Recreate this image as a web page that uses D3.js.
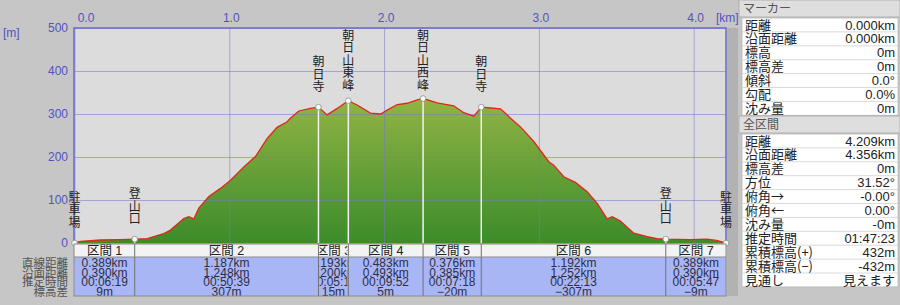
<!DOCTYPE html>
<html>
<head>
<meta charset="utf-8">
<script src="https://cdn.jsdelivr.net/npm/d3@7"></script>
<style>
  body { margin: 0; background: #c6c6c6; }
  svg { display: block; font-family: "Liberation Sans", "Noto Sans CJK JP", sans-serif; }
</style>
</head>
<body>
<div id="chart-area"></div>
<script>
// profile (horizontal distance km / elevation m)
var distKm = [0, 0.039, 0.168, 0.297, 0.389, 0.470, 0.577, 0.620, 0.706, 0.738, 0.771, 0.803, 0.868, 0.943, 1.008,
  1.094, 1.169, 1.245, 1.309, 1.374, 1.395, 1.449, 1.525, 1.576, 1.632, 1.697, 1.769, 1.826, 1.912, 1.977,
  2.020, 2.085, 2.149, 2.214, 2.252, 2.343, 2.450, 2.515, 2.580, 2.628, 2.688, 2.752, 2.784, 2.817, 2.881,
  2.967, 3.064, 3.096, 3.161, 3.236, 3.312, 3.377, 3.441, 3.474, 3.527, 3.613, 3.700, 3.764, 3.820, 3.979,
  4.087, 4.147, 4.209];
var elevM = [0, 4, 7, 8, 9, 10, 22, 30, 57, 61, 56, 81, 108, 127, 146,
  177, 201, 243, 269, 282, 290, 307, 313, 316, 298, 313, 331, 321, 302, 300,
  309, 322, 325, 333, 336, 326, 319, 303, 295, 316, 314, 312, 302, 290, 270,
  236, 189, 181, 154, 141, 119, 92, 56, 61, 51, 23, 15, 10, 9, 8,
  9, 6, 0];

var waypointNames = ["駐車場", "登山口", "朝日寺", "朝日山東峰", "朝日山西峰", "朝日寺", "登山口", "駐車場"];

var sectionNames = ["区間 1", "区間 2", "区間 3", "区間 4", "区間 5", "区間 6", "区間 7"];
var sectionKm = [0.389, 1.187, 0.193, 0.483, 0.376, 1.192, 0.389];
var sectionSurfKm = [0.390, 1.248, 0.200, 0.493, 0.385, 1.252, 0.390];
var sectionTime = ["00:06:19", "00:50:39", "00:05:15", "00:09:52", "00:07:18", "00:22:13", "00:05:47"];
var sectionDiff = [9, 307, 15, 5, -20, -307, -9];
var rowLabels = ["直線距離", "沿面距離", "推定時間", "標高差"];

var xTicks = [0, 1, 2, 3, 4];
var yTicks = [0, 100, 200, 300, 400, 500];

var markerLabels = ["距離", "沿面距離", "標高", "標高差", "傾斜", "勾配", "沈み量"];
var markerValues = ["0.000km", "0.000km", "0m", "0m", "0.0°", "0.0%", "0m"];
var totalLabels = ["距離", "沿面距離", "標高差", "方位", "俯角→", "俯角←", "沈み量", "推定時間", "累積標高(+)", "累積標高(−)", "見通し"];
var totalValues = ["4.209km", "4.356km", "0m", "31.52°", "-0.00°", "0.00°", "-0m", "01:47:23", "432m", "-432m", "見えます"];

var svgWidth = 900, svgHeight = 305;
var plot = { left: 74, right: 726, top: 28, bottom: 243 };

var svg = d3.select("#chart-area").append("svg")
  .attr("width", svgWidth).attr("height", svgHeight);

var x = d3.scaleLinear().domain([0, d3.sum(sectionKm)]).range([plot.left + 0.5, plot.right]);
var y = d3.scaleLinear().domain([0, 500]).range([plot.bottom, plot.top]);

// waypoints from section data
var wpKm = [0], wpElev = [0];
sectionKm.forEach(function(d, i) {
  wpKm.push(wpKm[i] + d);
  wpElev.push(wpElev[i] + sectionDiff[i]);
});
var profile = distKm.map(function(d, i) { return { km: d, m: elevM[i] }; });

// plot background
svg.append("rect").attr("x", plot.left).attr("y", plot.top)
  .attr("width", plot.right - plot.left).attr("height", plot.bottom - plot.top)
  .attr("fill", "#dcdcdc");
svg.append("rect").attr("x", plot.right + 1).attr("y", plot.top)
  .attr("width", 11).attr("height", 268).attr("fill", "#b2b2b2");

var grad = svg.append("defs").append("linearGradient")
  .attr("id", "fillGrad").attr("gradientUnits", "userSpaceOnUse")
  .attr("x1", 0).attr("x2", 0).attr("y1", y(340)).attr("y2", y(0));
grad.append("stop").attr("offset", "0%").attr("stop-color", "#92b445");
grad.append("stop").attr("offset", "100%").attr("stop-color", "#3c8c2a");

var area = d3.area()
  .x(function(d) { return x(d.km); })
  .y0(y(0))
  .y1(function(d) { return y(d.m); });
svg.append("path").datum(profile).attr("d", area).attr("fill", "url(#fillGrad)");

// grid + axes
var yAxisG = svg.append("g").attr("transform", "translate(" + plot.left + ",0)")
  .call(d3.axisLeft(y).tickValues(yTicks).tickSize(-(plot.right - plot.left)).tickPadding(6));
var xAxisG = svg.append("g").attr("transform", "translate(0," + plot.top + ")")
  .call(d3.axisTop(x).tickValues(xTicks).tickSize(-(plot.bottom - plot.top)).tickPadding(6)
    .tickFormat(d3.format(".1f")));
[yAxisG, xAxisG].forEach(function(g) {
  g.select(".domain").remove();
  g.selectAll(".tick line").attr("stroke", "#7878cc").attr("stroke-opacity", 0.55);
  g.selectAll(".tick text").attr("fill", "#5252c4").attr("font-size", 12)
    .attr("font-family", "Liberation Sans, sans-serif");
});
xAxisG.selectAll(".tick text").attr("x", function(d) { return d === 0 ? 11 : 1.5; });

svg.append("text").attr("x", 3).attr("y", 37).attr("fill", "#5252c4").attr("font-size", 12).text("[m]");
svg.append("text").attr("x", 716).attr("y", 22).attr("fill", "#5252c4").attr("font-size", 12).text("[km]");

// plot frame
svg.append("path")
  .attr("d", "M" + plot.left + "," + plot.bottom + "V" + plot.top + "H" + plot.right + "V" + plot.bottom)
  .attr("fill", "none").attr("stroke", "#6a6ad0").attr("stroke-width", 1.5);

// waypoint stems
svg.selectAll(".stem").data(wpKm).enter().append("line")
  .attr("x1", function(d) { return x(d); }).attr("x2", function(d) { return x(d); })
  .attr("y1", function(d, i) { return y(wpElev[i]); }).attr("y2", y(0))
  .attr("stroke", "#f2f2f2").attr("stroke-width", 1.5);

var line = d3.line().x(function(d) { return x(d.km); }).y(function(d) { return y(d.m); });
svg.append("path").datum(profile).attr("d", line)
  .attr("fill", "none").attr("stroke", "#e0281a").attr("stroke-width", 1.3);

svg.selectAll(".wp").data(wpKm).enter().append("circle")
  .attr("cx", function(d) { return x(d); })
  .attr("cy", function(d, i) { return y(wpElev[i]); })
  .attr("r", 2.8).attr("fill", "#fff").attr("stroke", "#8a8a8a").attr("stroke-width", 0.8);

// vertical waypoint names
var charStep = 12.6;
waypointNames.forEach(function(name, i) {
  var chars = name.split("");
  var bottom = Math.max(y(wpElev[i]) - 14, plot.top + 1 + chars.length * charStep);
  svg.selectAll(null).data(chars).enter().append("text")
    .attr("x", x(wpKm[i]))
    .attr("y", function(c, j) { return bottom - (chars.length - j - 0.5) * charStep; })
    .attr("dy", "0.36em")
    .attr("text-anchor", "middle")
    .attr("font-family", "Noto Sans CJK JP")
    .attr("font-size", 12).attr("fill", "#222")
    .text(function(c) { return c; });
});

// section table
var tHead = { top: 244, bottom: 257 }, tBody = { top: 257, bottom: 296 };
var sections = sectionNames.map(function(n, i) {
  return { name: n, x0: x(wpKm[i]), x1: x(wpKm[i + 1]),
    lines: [sectionKm[i].toFixed(3) + "km", sectionSurfKm[i].toFixed(3) + "km", sectionTime[i],
      (sectionDiff[i] < 0 ? "−" + (-sectionDiff[i]) : sectionDiff[i]) + "m"] };
});
svg.append("rect").attr("x", plot.left).attr("y", tHead.top)
  .attr("width", plot.right - plot.left).attr("height", tHead.bottom - tHead.top).attr("fill", "#f3f3f3");
svg.append("rect").attr("x", plot.left).attr("y", tBody.top)
  .attr("width", plot.right - plot.left).attr("height", tBody.bottom - tBody.top).attr("fill", "#a9b6f6");

var defs = svg.select("defs");
sections.forEach(function(s, i) {
  defs.append("clipPath").attr("id", "clip" + i).append("rect")
    .attr("x", s.x0 + 1).attr("y", tHead.top).attr("width", s.x1 - s.x0 - 2).attr("height", tBody.bottom - tHead.top);
  var g = svg.append("g").attr("clip-path", "url(#clip" + i + ")");
  var cx = (s.x0 + s.x1) / 2;
  g.append("text").attr("x", cx).attr("y", 255).attr("text-anchor", "middle")
    .attr("font-size", 12.5).attr("fill", "#222").text(s.name);
  g.selectAll(null).data(s.lines).enter().append("text")
    .attr("x", cx).attr("y", function(d, j) { return 267 + j * 9.7; })
    .attr("text-anchor", "middle").attr("font-size", 12).attr("fill", "#2e2e44")
    .text(function(d) { return d; });
});
svg.selectAll(".sdiv").data(wpKm.slice(1, -1)).enter().append("line")
  .attr("x1", function(d) { return x(d); }).attr("x2", function(d) { return x(d); })
  .attr("y1", tHead.top).attr("y2", tBody.bottom)
  .attr("stroke", "#707070").attr("stroke-width", 1);
svg.append("rect").attr("x", plot.left).attr("y", tHead.top)
  .attr("width", plot.right - plot.left).attr("height", tBody.bottom - tHead.top)
  .attr("fill", "none").attr("stroke", "#8a8a8a").attr("stroke-width", 1);
svg.append("line").attr("x1", plot.left).attr("x2", plot.right).attr("y1", tBody.top).attr("y2", tBody.top)
  .attr("stroke", "#8a8a8a");

svg.selectAll(".rowlab").data(rowLabels).enter().append("text")
  .attr("x", 68).attr("y", function(d, j) { return 267 + j * 9.7; })
  .attr("text-anchor", "end").attr("font-family", "Noto Sans CJK JP")
  .attr("font-size", 11.5).attr("fill", "#555").text(function(d) { return d; });

// right info panel
function panelGroup(title, top, labels, values) {
  var rowH = 13.9;
  svg.append("rect").attr("x", 739).attr("y", top).attr("width", 161).attr("height", 17)
    .attr("fill", "#dedede").attr("stroke", "#a8a8a8").attr("stroke-width", 0.8);
  svg.append("text").attr("x", 743).attr("y", top + 13).attr("font-family", "Noto Sans CJK JP")
    .attr("font-size", 12).attr("fill", "#555").text(title);
  var t0 = top + 18;
  svg.append("rect").attr("x", 742).attr("y", t0).attr("width", 156).attr("height", labels.length * rowH)
    .attr("fill", "#fff").attr("stroke", "#b8b8b8").attr("stroke-width", 0.8);
  svg.selectAll(null).data(labels.slice(1)).enter().append("line")
    .attr("x1", 742).attr("x2", 898)
    .attr("y1", function(d, j) { return t0 + (j + 1) * rowH; })
    .attr("y2", function(d, j) { return t0 + (j + 1) * rowH; })
    .attr("stroke", "#dadada");
  svg.selectAll(null).data(labels).enter().append("text")
    .attr("x", 745).attr("y", function(d, j) { return t0 + j * rowH + 11.5; })
    .attr("font-family", "Noto Sans CJK JP").attr("font-size", 13).attr("fill", "#222")
    .text(function(d) { return d; });
  svg.selectAll(null).data(values).enter().append("text")
    .attr("x", 895).attr("y", function(d, j) { return t0 + j * rowH + 11.5; })
    .attr("text-anchor", "end").attr("font-size", 13).attr("fill", "#222")
    .text(function(d) { return d; });
}
panelGroup("マーカー", 0, markerLabels, markerValues);
panelGroup("全区間", 116, totalLabels, totalValues);
</script>
</body>
</html>
